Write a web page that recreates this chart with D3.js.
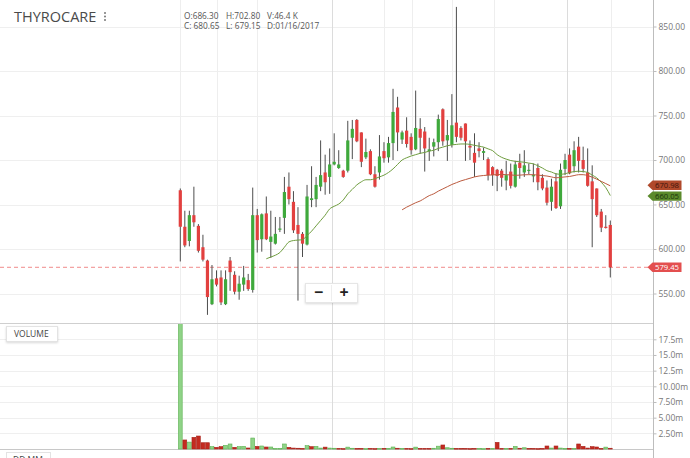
<!DOCTYPE html>
<html><head><meta charset="utf-8">
<script src="https://cdn.jsdelivr.net/npm/d3@7"></script>
<style>
html,body{margin:0;padding:0;background:#fff;overflow:hidden}
svg{display:block;font-family:"Open Sans",sans-serif}
</style></head><body>
<svg id="c" width="690" height="458"></svg>
<script>
// ---- data ----
const title = "THYROCARE";
const infoRows = [["O:686.30","H:702.80","V:46.4 K"],["C: 680.65","L: 679.15","D:01/16/2017"]];
const opens  = [666,625,609,638,626,602,587,538,567,568,538,587,571,552,560,565,554,638,611,640,608,606,622,635,670,653,627,617,605,655,656,670,686,681,695,691,688,688,725,745,731,703,710,684,686,710,703,719,759,723,733,726,712,735,732,710,715,720,757,722,717,742,736,741,716,708,713,708,701,692,689,688,677,687,670,697,686,688,682,691,680,669,653,676,648,690,706,693,715,700,686,676,668,642,625,627];
const highs  = [668,643,643,670,628,616,588,582,576,576,576,591,575,570,581,572,669,645,640,659,643,636,636,681,686,665,647,619,672,693,681,722,706,713,730,711,689,744,745,746,731,724,712,693,728,720,726,780,771,733,748,730,778,747,737,725,724,751,758,745,774,872,738,741,722,730,720,714,703,693,690,690,699,696,699,707,711,696,696,696,684,677,679,685,696,707,713,721,726,715,713,694,668,645,638,632];
const lows   = [586,602,603,625,596,586,526,537,558,537,537,553,549,543,553,553,551,596,597,610,590,605,619,617,650,618,542,591,604,647,647,665,661,662,694,690,680,686,701,720,692,701,683,669,678,697,697,700,710,718,714,706,711,707,687,699,704,710,716,699,714,720,722,699,700,681,703,700,677,671,665,670,666,668,669,679,681,684,675,666,666,649,643,645,645,683,684,686,686,686,670,602,636,619,623,568];
const closes = [625,604,638,630,598,588,546,566,560,540,566,574,552,561,568,555,638,610,639,611,614,617,623,664,656,621,617,606,659,657,672,683,675,695,698,695,681,722,735,721,698,709,684,670,704,702,719,754,731,731,718,711,736,725,713,712,720,746,721,728,739,726,725,721,714,697,710,710,683,683,682,680,683,671,695,691,694,689,683,675,668,652,670,646,689,700,685,711,699,690,671,656,638,624,624,579.45];
const volumes = [20.1,1.44,1.1,1.86,2.07,1.0,1.0,0.37,0.27,0.37,0.58,0.8,0.27,0.37,0.42,0.16,1.75,0.42,0.48,0.32,0.32,0.1,0.1,0.8,0.27,0.15,0.12,0.1,0.53,0.37,0.42,0.15,0.3,0.15,0.12,0.1,0.08,0.3,0.12,0.1,0.1,0.08,0.1,0.08,0.1,0.1,0.1,0.32,0.12,0.1,0.1,0.08,0.3,0.1,0.1,0.1,0.12,0.45,0.64,0.2,0.12,0.1,0.1,0.1,0.08,0.1,0.1,0.08,0.1,0.1,1.06,0.1,0.1,0.1,0.42,0.12,0.2,0.1,0.1,0.08,0.1,0.48,0.15,0.48,0.15,0.1,0.1,0.1,0.8,0.42,0.15,0.37,0.32,0.1,0.3,0.12];
const ma20Start = 19;
const ma20Vals = [589,591,593,596,602,608,609.5,610,610.5,615,620,626,632,638,645,648,650.5,655,662,667,672,675.5,677.8,677.8,679,681,683,686,690,695,700,702.5,704.5,706,707.5,708.5,710,711,713,714.5,716,717,717.5,718,718,717.5,716.5,715.5,714.5,712.5,710.5,706,703,701,699.4,698.5,698,697.5,696.5,695.7,693.5,691,688,686.5,684.5,684,684.5,686,687,687.4,687,686,683,680,675,669,660.05];
const ma50Start = 49;
const ma50Vals = [644,647,649.5,652,654,657,660,662,665,667.5,670,672.5,674.5,676.5,678,679.5,681,682,682.6,683,683.3,683.6,683.7,683.5,683.2,682.8,683,683.4,683.5,683.5,683,682.5,682,681,680,680.5,681,681.5,682.5,683.5,683.5,682.5,680.7,678.5,676,673.5,670.98];
const priceTicks = [550,600,650,700,750,800,850];
const volTicks = [2.5,5,7.5,10,12.5,15,17.5];
const volTickLabels = ["2.50m","5.00m","7.50m","10.00m","12.5m","15.0m","17.5m"];
const gridIdx = [0,8,17,33.5,44.9,51.1,60.1,69.2,85.4,95.2];
const darkGridIdx = [33.5,85.4];
const lastPrice = 579.45;

// ---- layout ----
const axisX = 653.5, panelSep = 323.5, volBase = 449.5;
const svg = d3.select("#c");
const n = closes.length;
const x = d3.scaleLinear().domain([0, n-1]).range([180.3, 610.3]);
const y = d3.scaleLinear().domain([550, 850]).range([293.5, 26.5]);
const yv = d3.scaleLinear().domain([0, 17.5]).range([449, 339.3]);

const defs = svg.append("defs");
const sh = defs.append("filter").attr("id","sh").attr("x","-20%").attr("y","-30%").attr("width","140%").attr("height","170%");
sh.append("feDropShadow").attr("dx",0).attr("dy",1).attr("stdDeviation",1).attr("flood-color","#000").attr("flood-opacity",0.15);
defs.append("clipPath").attr("id","pclip").append("rect").attr("x",0).attr("y",0).attr("width",axisX).attr("height",panelSep);
defs.append("clipPath").attr("id","vclip").append("rect").attr("x",0).attr("y",panelSep+0.5).attr("width",axisX).attr("height",volBase-panelSep);

// grid
const grid = svg.append("g");
grid.selectAll(".hp").data(priceTicks).join("line")
  .attr("x1",0).attr("x2",axisX).attr("y1",d=>Math.round(y(d))+0.5).attr("y2",d=>Math.round(y(d))+0.5)
  .attr("stroke","#efefef");
grid.selectAll(".hv").data(volTicks).join("line")
  .attr("x1",0).attr("x2",axisX).attr("y1",d=>Math.round(yv(d))+0.5).attr("y2",d=>Math.round(yv(d))+0.5)
  .attr("stroke","#efefef");
grid.selectAll(".vg").data(gridIdx).join("line")
  .attr("x1",d=>Math.round(x(d))+0.5).attr("x2",d=>Math.round(x(d))+0.5).attr("y1",0).attr("y2",volBase)
  .attr("stroke",d=>darkGridIdx.includes(d)?"#dcdcdc":"#eeeeee");

// panel lines
svg.append("line").attr("x1",0).attr("x2",axisX).attr("y1",panelSep).attr("y2",panelSep).attr("stroke","#cfcfcf");
svg.append("line").attr("x1",0).attr("x2",axisX).attr("y1",volBase).attr("y2",volBase).attr("stroke","#c8c8c8");
svg.append("line").attr("x1",axisX).attr("x2",axisX).attr("y1",0).attr("y2",458).attr("stroke","#bdbdbd");

// dashed last price line
svg.append("line").attr("x1",0).attr("x2",axisX).attr("y1",y(lastPrice)).attr("y2",y(lastPrice))
  .attr("stroke","#f08a8a").attr("stroke-dasharray","4,3");

// candles
const idx = d3.range(n);
const cg = svg.append("g").attr("clip-path","url(#pclip)");
cg.selectAll(".wick").data(idx).join("line")
  .attr("x1",i=>x(i)).attr("x2",i=>x(i)).attr("y1",i=>y(highs[i])).attr("y2",i=>y(lows[i]))
  .attr("stroke","#4d4d4d").attr("stroke-width",1);
cg.selectAll(".body").data(idx).join("rect")
  .attr("x",i=>x(i)-1.6).attr("width",3.2)
  .attr("y",i=>y(Math.max(opens[i],closes[i])))
  .attr("height",i=>Math.max(1.2, Math.abs(y(opens[i])-y(closes[i]))))
  .attr("fill",i=>closes[i]>=opens[i]?"#3fa93c":"#e2403f");

// moving averages
const line = d3.line().x(d=>x(d.i)).y(d=>y(d.v)).curve(d3.curveMonotoneX);
cg.append("path").datum(ma20Vals.map((v,k)=>({i:k+ma20Start,v})))
  .attr("d",line).attr("fill","none").attr("stroke","#6f9d3f").attr("stroke-width",1);
cg.append("path").datum(ma50Vals.map((v,k)=>({i:k+ma50Start,v})))
  .attr("d",line).attr("fill","none").attr("stroke","#bb5a3e").attr("stroke-width",1);

// volume bars
const vg = svg.append("g").attr("clip-path","url(#vclip)");
const up = i => i===0 || closes[i] >= closes[i-1];
vg.selectAll(".vol").data(idx).join("rect")
  .attr("x",i=>x(i)-1.9).attr("width",3.8)
  .attr("y",i=>yv(volumes[i])).attr("height",i=>Math.max(0.8, yv(0)-yv(volumes[i])))
  .attr("fill",i=>up(i)?"#8fd387":"#c42a20")
  .attr("stroke",i=>up(i)?"#5db152":"#a8221a").attr("stroke-width",0.6);

// axes
const pa = svg.append("g").attr("transform",`translate(${axisX},0)`)
  .call(d3.axisRight(y).tickValues(priceTicks).tickFormat(d3.format(".2f")).tickSize(3).tickPadding(2));
const va = svg.append("g").attr("transform",`translate(${axisX},0)`)
  .call(d3.axisRight(yv).tickValues(volTicks).tickFormat((d,k)=>volTickLabels[k]).tickSize(3).tickPadding(2));
[pa,va].forEach(a=>{
  a.select(".domain").remove();
  a.selectAll(".tick line").attr("stroke","#bdbdbd");
  a.selectAll(".tick text").attr("fill","#777").style("font-family","'Open Sans',sans-serif").style("font-size","8.5px");
});

// price tags (stacked so that neighbouring tags do not cover each other)
const tags = [
  {v: ma50Vals[ma50Vals.length-1], fill:"#b0492b", tc:"#3d150b"},
  {v: ma20Vals[ma20Vals.length-1], fill:"#5b8a2c", tc:"#1c350c"},
  {v: lastPrice, fill:"#e34f4f", tc:"#ffffff"}
];
tags.forEach(t=>t.y=y(t.v));
tags.sort((a,b)=>a.y-b.y);
const minGap = 10.8;
for(let k=1;k<tags.length;k++){
  const d = tags[k].y - tags[k-1].y;
  if(d < minGap){ const s=(minGap-d)/2; tags[k-1].y -= s; tags[k].y += s; }
}
tags.forEach(t=>{
  const yy=t.y, g=svg.append("g");
  g.append("path").attr("d",`M647.5,${yy} L652.5,${yy-4.7} L681.5,${yy-4.7} L681.5,${yy+4.7} L652.5,${yy+4.7} Z`).attr("fill",t.fill);
  g.append("text").attr("x",655).attr("y",yy+2.8).attr("fill",t.tc).style("font-size","7.7px").text(d3.format(".2f")(t.v));
});

// header
svg.append("text").attr("x",14).attr("y",22).attr("fill","#4a4a4a").style("font-size","14.5px").text(title);
[13,16.5,20].forEach(cy=>svg.append("circle").attr("cx",105).attr("cy",cy).attr("r",1).attr("fill","#777"));
const colX = [184,226,267];
infoRows.forEach((row,r)=>row.forEach((t,c)=>{
  svg.append("text").attr("x",colX[c]).attr("y",18.5+r*10).attr("fill","#555").style("font-size","8.3px").text(t);
}));

// zoom control
const zc = svg.append("g");
zc.append("rect").attr("x",305.5).attr("y",283.5).attr("width",52).attr("height",19).attr("fill","#fff").attr("stroke","#e6e6e6").attr("filter","url(#sh)");
zc.append("line").attr("x1",331.5).attr("x2",331.5).attr("y1",285).attr("y2",301).attr("stroke","#eee");
zc.append("text").attr("x",318.5).attr("y",298).attr("text-anchor","middle").attr("fill","#222").style("font-size","16px").style("font-weight","700").text("−");
zc.append("text").attr("x",344).attr("y",298).attr("text-anchor","middle").attr("fill","#222").style("font-size","16px").style("font-weight","700").text("+");

// volume label
svg.append("rect").attr("x",6.5).attr("y",326.5).attr("width",51).attr("height",15).attr("fill","#fff").attr("stroke","#e3e3e3").attr("filter","url(#sh)");
svg.append("text").attr("x",14).attr("y",337).attr("fill","#444").style("font-size","8.5px").text("VOLUME");

// bottom date axis box (cut off at the picture's edge, as in the reference)
svg.append("rect").attr("x",6.5).attr("y",452.5).attr("width",44).attr("height",14).attr("fill","#fff").attr("stroke","#e3e3e3");
svg.append("text").attr("x",13).attr("y",463).attr("fill","#444").style("font-size","8.5px").text("DD MM");
</script>
</body></html>
